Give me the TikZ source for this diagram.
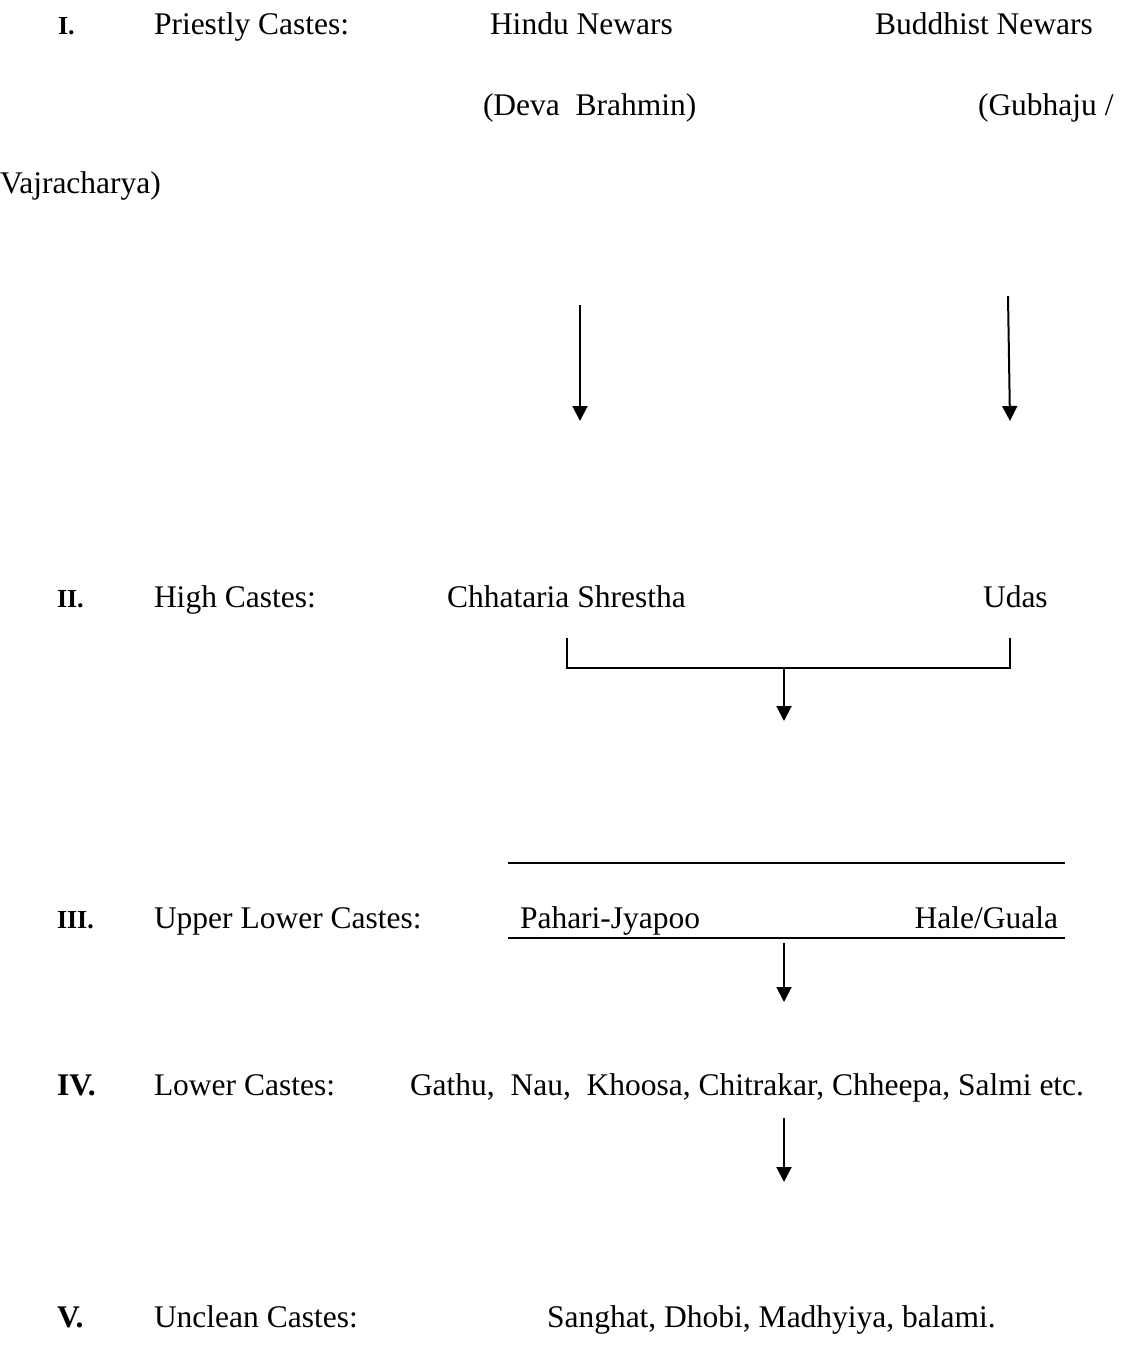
\documentclass[tikz,border=0pt]{standalone}
\usepackage{fontspec}
\setmainfont{Liberation Serif}
\usetikzlibrary{positioning,arrows.meta}

\begin{document}
\begin{tikzpicture}[x=1pt,y=-1pt,
every node/.style={inner sep=0pt,outer sep=0pt,anchor=base west,font=\fontsize{31.5}{36}\selectfont},
num/.style={font=\fontsize{26}{30}\selectfont\bfseries},
bignum/.style={font=\fontsize{31.5}{36}\selectfont\bfseries},
link/.style={line width=2pt,-{Triangle[width=15pt,length=15pt]}},
rule/.style={line width=1.8pt}]
\useasboundingbox (0,0) rectangle (1130,1349);

% I. priestly castes
\node[num] (numI) at (58,34) {I.};
\node (priestly) at (154,34) {Priestly Castes:};
\node (hindu) at (490,34) {Hindu Newars};
\node (buddhist) at (875,34) {Buddhist Newars};
\node (deva) at (483,115) {(Deva\ \ Brahmin)};
\node (gubhaju) at (978,115) {(Gubhaju /};
\node (vajra) at (0,193) {Vajracharya)};

\coordinate (hinduTop) at (580,305);
\coordinate (hinduEnd) at (580,421);
\coordinate (budTop) at (1008,296);
\coordinate (budEnd) at (1010,421);
\draw[link] (hinduTop) -- (hinduEnd);
\draw[link] (budTop) -- (budEnd);

% II. high castes
\node[num] (numII) at (57,607) {II.};
\node (high) at (154,607) {High Castes:};
\node (chhataria) at (447,607) {Chhataria Shrestha};
\node (udas) at (983,607) {Udas};

\coordinate (brL) at (567,638);
\coordinate (brR) at (1010,638);
\coordinate (brM) at (784,668);
\coordinate (brEnd) at (784,721);
\draw[rule] (brL) |- (brR |- brM) -- (brR);
\draw[link] (brM) -- (brEnd);

% III. upper lower castes
\node[num] (numIII) at (57,928) {III.};
\node (upper) at (154,928) {Upper Lower Castes:};
\node (pahari) at (520,928) {Pahari-Jyapoo};
\node (hale) at (1058,928) [anchor=base east] {Hale/Guala};

\coordinate (topL) at (508,863);
\coordinate (topR) at (1065,863);
\coordinate (botL) at (508,938);
\coordinate (botR) at (1065,938);
\draw[rule] (topL) -- (topR);
\draw[rule] (botL) -- (botR);
\coordinate (upEnd) at (784,1002);
\draw[link] (784,943) coordinate (upTop) -- (upEnd);

% IV. lower castes
\node[bignum] (numIV) at (57,1095) {IV.};
\node (lower) at (154,1095) {Lower Castes:};
\node (gathu) at (410,1095) {Gathu,\ \ Nau,\ \ Khoosa, Chitrakar, Chheepa, Salmi etc.};

\coordinate (lowTop) at (784,1118);
\coordinate (lowEnd) at (784,1182);
\draw[link] (lowTop) -- (lowEnd);

% V. unclean castes
\node[bignum] (numV) at (57,1327) {V.};
\node (unclean) at (154,1327) {Unclean Castes:};
\node (sanghat) at (547,1327) {Sanghat, Dhobi, Madhyiya, balami.};
\end{tikzpicture}
\end{document}
